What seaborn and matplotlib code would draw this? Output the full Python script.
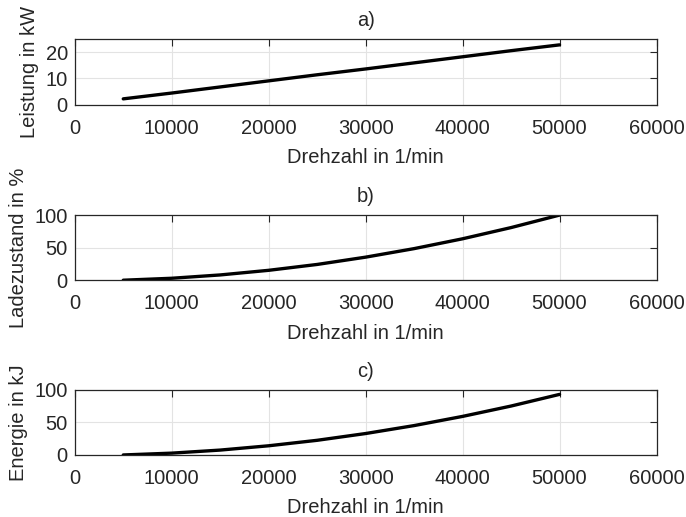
import numpy as np
import pandas as pd
import seaborn as sns
import matplotlib
matplotlib.use("Agg")
import matplotlib.pyplot as plt

# speed in 1/min (shared x for all panels)
drehzahl = [5000, 10000, 15000, 20000, 25000, 30000, 35000, 40000, 45000, 50000]
# a) power in kW
leistung = [2.3, 4.5, 6.8, 9.1, 11.4, 13.6, 15.9, 18.2, 20.5, 22.7]
# b) state of charge in %
ladezustand = [0.0, 3.0, 8.1, 15.2, 24.2, 35.4, 48.5, 63.6, 80.8, 100.0]
# c) energy in kJ
energie = [0.0, 2.8, 7.5, 14.1, 22.5, 32.9, 45.1, 59.2, 75.1, 93.0]

titles = ["a)", "b)", "c)"]
ylabels = ["Leistung in kW", "Ladezustand in %", "Energie in kJ"]
xlabel = "Drehzahl in 1/min"
xticks = [0, 10000, 20000, 30000, 40000, 50000, 60000]
yticks = [[0, 10, 20], [0, 50, 100], [0, 50, 100]]
ylims = [(0, 25), (0, 100), (0, 100)]

sns.set_style("whitegrid")
plt.rcParams["font.family"] = ["Liberation Sans", "DejaVu Sans"]
fs = 14.5
plt.rcParams["font.size"] = fs

fig = plt.figure(figsize=(6.86, 5.17), dpi=100)
# axes rectangles [left, bottom, width, height] in figure fraction
rects = [[0.109, 0.797, 0.848, 0.128],
         [0.109, 0.458, 0.848, 0.126],
         [0.109, 0.120, 0.848, 0.126]]

series = [leistung, ladezustand, energie]
for i, vals in enumerate(series):
    ax = fig.add_axes(rects[i])
    df = pd.DataFrame({"x": drehzahl, "y": vals})
    sns.lineplot(data=df, x="x", y="y", ax=ax, color="black", linewidth=2.4)
    ax.set_xlim(0, 60000)
    ax.set_ylim(*ylims[i])
    ax.set_xticks(xticks)
    ax.set_yticks(yticks[i])
    ax.set_title(titles[i], fontsize=fs, pad=9.5, color="#262626")
    ax.set_xlabel(xlabel, fontsize=fs, color="#262626", labelpad=7.5)
    ax.set_ylabel(ylabels[i], fontsize=fs, color="#262626", labelpad=4.5)
    ax.grid(True, color="#e3e3e3", linewidth=0.8)
    ax.tick_params(direction="in", length=5, width=0.8, top=True, right=True,
                   labelsize=fs, colors="#262626")
    ax.tick_params(axis="x", pad=10)
    ax.tick_params(axis="y", pad=5)
    for s in ax.spines.values():
        s.set_color("#262626")
        s.set_linewidth(0.9)

fig.savefig("out.png", dpi=100)
